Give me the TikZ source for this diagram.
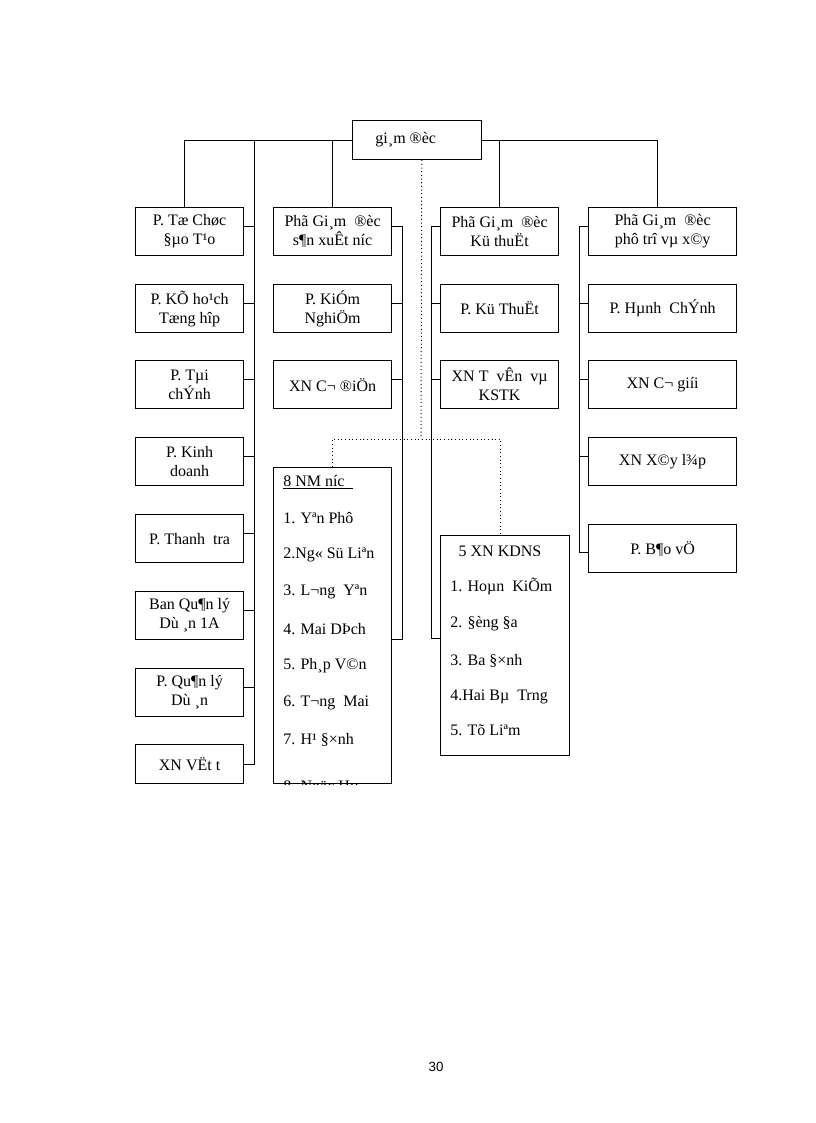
\documentclass[tikz,border=0pt]{standalone}
\usepackage{fontspec}
\setmainfont{Liberation Serif}
\newfontfamily\pagefont{Liberation Sans}

\begin{document}
\begin{tikzpicture}[x=0.75pt,y=-0.75pt,
		box/.style={draw,line width=0.9pt,inner sep=0pt,align=center,anchor=north west,
			font=\fontsize{12}{14.25}\selectfont,minimum height=36pt},
		item/.style={anchor=west,inner sep=0pt,font=\fontsize{12}{14}\selectfont},
		link/.style={line width=0.75pt}]
		\useasboundingbox (0,0) rectangle (816,1123);

		\node[box,minimum width=96.75pt,minimum height=29.25pt] (GD) at (352,120) {gi¸m\ ®èc\hspace*{17pt}};

		% cot 1
		\begin{scope}[every node/.style={box,minimum width=81pt}]
			\node (TC) at (135,207) {P. Tæ Chøc\\§µo T¹o};
			\node (KH) at (135,284) {P. KÕ ho¹ch\\Tæng hîp};
			\node (TV) at (135,360) {P. Tµi\\chÝnh};
			\node (KD) at (135,437) {P. Kinh\\doanh};
			\node (TT) at (135,514) {P. Thanh\ \ tra};
			\node (BQ) at (135,591) {Ban\ Qu¶n lý\\Dù ¸n\ 1A};
			\node (QL) at (135,668) {P. Qu¶n lý\\Dù ¸n};
			\node[minimum height=29.25pt] (VT) at (135,744) {XN VËt t};
		\end{scope}

		% cot 2
		\begin{scope}[every node/.style={box,minimum width=88.5pt}]
			\node (SX) at (273,207) {Phã Gi¸m\ \ ®èc\\s¶n xuÊt níc};
			\node (KN) at (273,284) {P. KiÓm\\NghiÖm};
			\node (CD) at (273,360) {XN C¬ ®iÖn};
			\node[minimum height=237pt] (NM) at (273,467) {};
		\end{scope}

		% cot 3
		\begin{scope}[every node/.style={box,minimum width=88.5pt}]
			\node (KT) at (440,207) {Phã Gi¸m\ \ ®èc\\Kü thuËt};
			\node (PK) at (440,284) {P. Kü ThuËt};
			\node (TK) at (440,360) {XN T\ \ vÊn\ \ vµ\\KSTK};
			\node[minimum width=96.75pt,minimum height=165pt] (DN) at (440,535) {};
		\end{scope}

		% cot 4
		\begin{scope}[every node/.style={box,minimum width=111pt}]
			\node (PT) at (588,207) {Phã Gi¸m\ \ ®èc\\phô trî vµ x©y};
			\node (HC) at (588,284) {P. Hµnh\ \ ChÝnh};
			\node (CG) at (588,360) {XN C¬ giíi};
			\node (XL) at (588,437) {XN X©y l¾p};
			\node (BV) at (588,524) {P. B¶o vÖ};
		\end{scope}

		% danh sach nha may
		\begin{scope}
			\clip (NM.north west) rectangle (NM.south east);
			\node[item] (N0) at (283,482) {\underline{8 NM níc\hspace*{6pt}}};
			\node[item] (N1) at (283,518) {1. Yªn Phô};
			\node[item] (N2) at (283,555) {2.Ng« Sü Liªn};
			\node[item] (N3) at (283,592) {3. L¬ng\ \ Yªn};
			\node[item] (N4) at (283,629) {4. Mai DÞch};
			\node[item] (N5) at (283,666) {5. Ph¸p V©n};
			\node[item] (N6) at (283,703) {6. T¬ng\ \ Mai};
			\node[item] (N7) at (283,740) {7. H¹ §×nh};
			\node[item] (N8) at (283,788) {8. Ngäc Hµ};
		\end{scope}

		\node[item,anchor=center] (D0) at (500,551) {5 XN KDNS};
		\node[item] (D1) at (450,587) {1. Hoµn\ \ KiÕm};
		\node[item] (D2) at (450,624) {2. §èng §a};
		\node[item] (D3) at (450,661) {3. Ba §×nh};
		\node[item] (D4) at (450,697) {4.Hai Bµ\ \ Trng};
		\node[item] (D5) at (450,730) {5. Tõ Liªm};

		% duong noi
		\coordinate (busL) at (254,140);
		\draw[link] ([xshift=-3.75pt]TC.north) |- (GD.west);
		\draw[link] (SX.north) |- (GD.west);
		\draw[link] (KT.north) |- (GD.east);
		\draw[link] ([xshift=-3.75pt]PT.north) |- (GD.east);
		\foreach \n in {TC,KH,TV,KD,TT,BQ,QL}
			\draw[link] (busL) |- ([yshift=4pt]\n.east);
		\draw[link] (busL) |- (VT.east);

		\coordinate (busS) at ([shift={(7.5pt,4pt)}]SX.east);
		\draw[link] ([yshift=4pt]SX.east) -- (busS);
		\foreach \n in {KN,CD}
			\draw[link] (busS) |- ([yshift=4pt]\n.east);
		\draw[link] (busS) |- ([yshift=-10.5pt]NM.east);

		\coordinate (busK) at ([shift={(-6.75pt,4pt)}]KT.west);
		\draw[link] ([yshift=4pt]KT.west) -- (busK);
		\foreach \n in {PK,TK}
			\draw[link] (busK) |- ([yshift=4pt]\n.west);
		\draw[link] (busK) |- ([yshift=5pt]DN.west);

		\coordinate (busP) at ([shift={(-6.75pt,4pt)}]PT.west);
		\draw[link] ([yshift=4pt]PT.west) -- (busP);
		\foreach \n in {HC,CG,XL}
			\draw[link] (busP) |- ([yshift=4pt]\n.west);
		\draw[link] (busP) |- ([yshift=-3pt]BV.west);

		% duong cham
		\coordinate (dot) at (421,439);
		\draw[link,dotted] ([xshift=3.5pt]GD.south) -- (dot);
		\draw[link,dotted] (NM.north) |- (dot) -| ([xshift=-3.5pt]DN.north);

		\node[font=\pagefont\fontsize{10}{12}\selectfont] (pg) at (436,1067) {30};
	\end{tikzpicture}
\end{document}
